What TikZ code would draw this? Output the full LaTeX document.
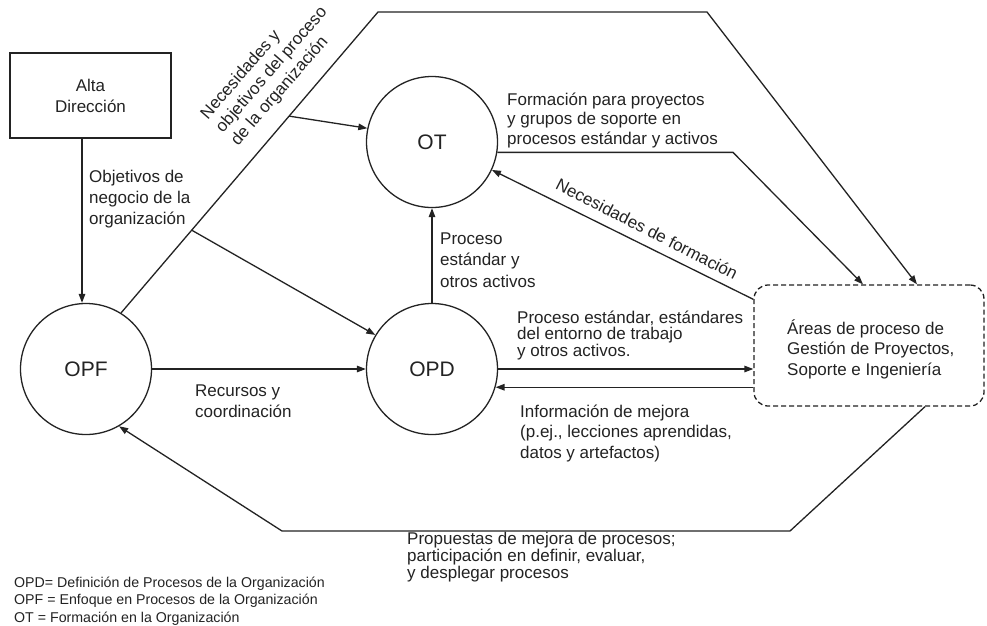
\documentclass[tikz,border=0pt]{standalone}
\usepackage{fontspec}
\setmainfont{Liberation Sans}
\usetikzlibrary{arrows.meta,calc}
\definecolor{ink}{RGB}{35,35,35}
\begin{document}
\begin{tikzpicture}[x=1pt,y=-1pt,
  line/.style={draw=ink,line width=1.3pt},
  arr/.style={line,-{Triangle[length=9pt,width=6.5pt]}},
  circ/.style={circle,draw=ink,line width=1.3pt,minimum size=131pt,inner sep=0pt,
    text=ink,font=\fontsize{21}{25}\selectfont},
  % multi-line labels are placed by the baseline of their last line
  lbl/.style={anchor=base west,align=left,inner sep=0pt,text=ink},
  fs/.style={font=\fontsize{17}{#1}\selectfont},
]
\useasboundingbox[fill=white] (0,0) rectangle (987,625);

% process nodes
\node[line,rectangle,minimum width=161pt,minimum height=85pt,align=center,
      text=ink,fs=21] (alta) at (90.5,95.5) {Alta\\Dirección};
\node[circ] (opf) at (86,369) {OPF};
\node[circ] (opd) at (432,369) {OPD};
\node[circ] (ot)  at (432,142) {OT};
\node[draw=ink,line width=1.3pt,dash pattern=on 5pt off 3pt,rounded corners=14pt,
      minimum width=230pt,minimum height=121pt] (areas) at (869,345.5) {};
\node[lbl,fs=20.5] (areastxt) at (787,375)
  {Áreas de proceso de\\Gestión de Proyectos,\\Soporte e Ingeniería};

% bend points and guide coordinates
\coordinate (d0) at (opf.58);
\coordinate (p1) at (378,12);
\coordinate (p2) at (707,12);
\coordinate (t1) at (917,0);
\coordinate (t2) at (863,0);
\coordinate (q1) at (733,0);
\coordinate (t3) at (925,0);
\coordinate (r1) at (790,531);
\coordinate (r2) at (282,531);
\coordinate (t0) at (82,0);

% connectors
\draw[arr] (alta.south -| t0) -- (opf.north -| t0);
\draw[arr] (d0) -- (p1) -- (p2) -- (areas.north -| t1);
\draw[arr] ($(d0)!0.654!(p1)$) -- (ot.168);
\draw[arr] ($(d0)!0.275!(p1)$) -- (opd.149);
\draw[arr] (ot.-9) -- (ot.-9 -| q1) -- (areas.north -| t2);
\draw[arr] ([yshift=-15pt]areas.north west) -- (ot.-25);
\draw[arr] (opd.north) -- (ot.south);
\draw[arr] (opf.east) -- (opd.west);
\draw[arr] (opd.east) -- (opd.east -| areas.west);
\draw[arr] (areas.west |- opd.-16) -- (opd.-16);
\draw[arr] (areas.south -| t3) -- (r1) -- (r2) -- (opf.-60);

% connector labels
\node[anchor=center,align=left,inner sep=0pt,text=ink,fs=20,rotate=49] (lneed) at (272,70)
  {Necesidades y\\objetivos del proceso\\de la organización};
\node[anchor=center,inner sep=0pt,text=ink,fs=20,rotate=-27] (ltrain) at (647,229)
  {Necesidades de formación};
\node[lbl,fs=21] (lobj) at (89,224) {Objetivos de\\negocio de la\\organización};
\node[lbl,fs=21.5] (lstd) at (440,287) {Proceso\\estándar y\\otros activos};
\node[lbl,fs=19.5] (lform) at (507,144)
  {Formación para proyectos\\y grupos de soporte en\\procesos estándar y activos};
\node[lbl,fs=21] (lrec) at (195,417) {Recursos y\\coordinación};
\node[lbl,fs=16.5] (lassets) at (517,356)
  {Proceso estándar, estándares\\del entorno de trabajo\\y otros activos.};
\node[lbl,fs=20.5] (limpr) at (520,458)
  {Información de mejora\\(p.ej., lecciones aprendidas,\\datos y artefactos)};
\node[lbl,fs=14.5] (lprop) at (407,578)
  {Propuestas de mejora de procesos;\\participación en definir, evaluar,\\y desplegar procesos};

% abbreviations
\node[lbl,font=\fontsize{14.2}{17.5}\selectfont] (legend) at (14,622)
  {OPD= Definición de Procesos de la Organización\\OPF = Enfoque en Procesos de la Organización\\OT = Formación en la Organización};
\end{tikzpicture}
\end{document}
